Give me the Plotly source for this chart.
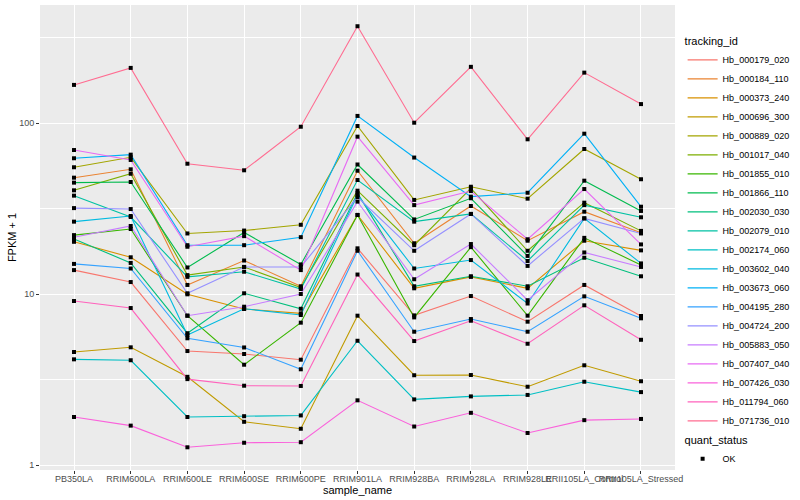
import plotly.graph_objects as go

categories = ["PB350LA", "RRIM600LA", "RRIM600LE", "RRIM600SE", "RRIM600PE", "RRIM901LA",
              "RRIM928BA", "RRIM928LA", "RRIM928LE", "RRII105LA_Control", "RRII105LA_Stressed"]

tracking_ids = ["Hb_000179_020", "Hb_000184_110", "Hb_000373_240", "Hb_000696_300", "Hb_000889_020",
                "Hb_001017_040", "Hb_001855_010", "Hb_001866_110", "Hb_002030_030", "Hb_002079_010",
                "Hb_002174_060", "Hb_003602_040", "Hb_003673_060", "Hb_004195_280", "Hb_004724_200",
                "Hb_005883_050", "Hb_007407_040", "Hb_007426_030", "Hb_011794_060", "Hb_071736_010"]

hb_000179_020 = [13.8, 11.75, 4.64, 4.46, 4.13, 18.5, 7.5, 9.73, 6.89, 11.3, 7.44]
hb_000184_110 = [47.9, 53.6, 11.3, 15.7, 11.1, 52.6, 19.8, 32.7, 20.5, 30.3, 22.8]
hb_000373_240 = [20.2, 16.4, 9.96, 8.18, 7.71, 29.0, 10.8, 12.6, 10.8, 20.5, 18.0]
hb_000696_300 = [4.58, 4.88, 3.28, 1.79, 1.63, 7.47, 3.35, 3.36, 2.87, 3.83, 3.09]
hb_000889_020 = [55.1, 63.0, 22.6, 23.5, 25.4, 96.0, 35.5, 42.4, 36.1, 70.5, 46.9]
hb_001017_040 = [40.4, 50.5, 12.9, 14.4, 10.9, 40.2, 19.3, 41.5, 17.9, 34.2, 23.4]
hb_001855_010 = [22.1, 24.0, 7.47, 3.86, 6.80, 29.0, 7.3, 18.8, 7.47, 21.3, 14.8]
hb_001866_110 = [44.8, 45.2, 14.3, 22.9, 14.9, 57.2, 27.3, 36.3, 16.7, 46.0, 30.6]
hb_002030_030 = [21.0, 15.2, 5.9, 10.1, 8.2, 38.9, 11.1, 12.7, 11.1, 16.3, 12.7]
hb_002079_010 = [37.6, 28.2, 12.6, 13.5, 10.7, 46.4, 26.5, 29.4, 15.6, 33.1, 28.1]
hb_002174_060 = [4.15, 4.10, 1.91, 1.93, 1.95, 5.33, 2.42, 2.52, 2.57, 3.07, 2.67]
hb_003602_040 = [26.5, 28.6, 5.76, 8.2, 7.54, 37.9, 14.1, 15.8, 8.8, 27.7, 15.1]
hb_003673_060 = [62.2, 65.3, 19.3, 19.3, 21.5, 110.0, 62.8, 37.1, 39.1, 86.6, 32.4]
hb_004195_280 = [15.0, 14.1, 5.51, 4.87, 3.63, 17.9, 6.02, 7.14, 6.02, 9.69, 7.21]
hb_004724_200 = [31.8, 31.4, 10.1, 14.4, 14.4, 36.9, 17.9, 29.4, 14.6, 27.7, 22.6]
hb_005883_050 = [21.5, 25.0, 7.47, 8.43, 10.0, 34.7, 12.2, 19.6, 9.2, 17.5, 14.4]
hb_007407_040 = [69.5, 60.8, 18.9, 21.8, 13.8, 83.2, 33.1, 40.0, 20.9, 41.1, 19.5]
hb_007426_030 = [1.91, 1.70, 1.27, 1.35, 1.36, 2.39, 1.68, 2.02, 1.54, 1.83, 1.86]
hb_011794_060 = [9.1, 8.28, 3.18, 2.91, 2.90, 13.0, 5.31, 6.98, 5.12, 8.59, 5.40]
hb_071736_010 = [167.0, 210.0, 57.8, 52.9, 95.1, 368.0, 100.4, 213.0, 80.3, 197.0, 129.0]

series_values = [hb_000179_020, hb_000184_110, hb_000373_240, hb_000696_300, hb_000889_020,
                 hb_001017_040, hb_001855_010, hb_001866_110, hb_002030_030, hb_002079_010,
                 hb_002174_060, hb_003602_040, hb_003673_060, hb_004195_280, hb_004724_200,
                 hb_005883_050, hb_007407_040, hb_007426_030, hb_011794_060, hb_071736_010]

colors = ["#F8766D", "#EA8331", "#D89000", "#C09B00", "#A3A500", "#7CAE00", "#39B600", "#00BB4E",
          "#00BF7D", "#00C1A3", "#00BFC4", "#00BAE0", "#00B0F6", "#35A2FF", "#9590FF", "#C77CFF",
          "#E76BF3", "#FA62DB", "#FF62BC", "#FF6C91"]

y_ticks = [1, 10, 100]
y_tick_labels = ["1", "10", "100"]
y_minor = [3.1623, 31.623, 316.23]

FONT = "Liberation Sans, Arial, sans-serif"

fig = go.Figure()
for name, vals, col in zip(tracking_ids, series_values, colors):
    fig.add_trace(go.Scatter(
        x=categories, y=vals, mode="lines", name=name,
        line=dict(color=col, width=1.1), legend="legend",
    ))

all_x = [c for vals in series_values for c in categories]
all_y = [v for vals in series_values for v in vals]
fig.add_trace(go.Scatter(
    x=all_x, y=all_y, mode="markers", name="OK",
    marker=dict(color="black", size=4, symbol="square"),
    legend="legend2",
))

fig.update_layout(
    width=800, height=500,
    margin=dict(l=40, r=117, t=5, b=30),
    paper_bgcolor="white", plot_bgcolor="#EBEBEB",
    font=dict(family=FONT, size=11, color="black"),
    legend=dict(
        title=dict(text="tracking_id", font=dict(size=11, color="black")),
        x=1.012, xanchor="left", y=0.944, yanchor="top",
        font=dict(size=9, color="black"),
        itemwidth=30, bgcolor="rgba(0,0,0,0)", tracegroupgap=0,
    ),
    legend2=dict(
        title=dict(text="quant_status", font=dict(size=11, color="black")),
        x=1.012, xanchor="left", y=0.086, yanchor="top",
        font=dict(size=9, color="black"),
        itemwidth=30, bgcolor="rgba(0,0,0,0)",
    ),
    showlegend=True,
)

fig.update_xaxes(
    type="category", categoryorder="array", categoryarray=categories,
    range=[-0.6, len(categories) - 0.4],
    showgrid=True, gridcolor="white", gridwidth=1.1, zeroline=False,
    ticks="outside", ticklen=3, tickcolor="#333333", tickwidth=1,
    tickangle=0, tickfont=dict(size=9, color="#4D4D4D", family=FONT),
    ticklabelstandoff=-3,
    title=dict(text="sample_name", font=dict(size=11, color="black"), standoff=2),
    showline=False, automargin=False,
)

fig.update_yaxes(
    type="log", range=[-0.029, 2.690],
    tickmode="array", tickvals=y_ticks, ticktext=y_tick_labels,
    showgrid=True, gridcolor="white", gridwidth=1.1, zeroline=False,
    minor=dict(tickmode="array", tickvals=y_minor, showgrid=True, gridcolor="white", gridwidth=0.5, ticks=""),
    ticks="outside", ticklen=3, tickcolor="#333333", tickwidth=1,
    tickfont=dict(size=9, color="#4D4D4D", family=FONT),
    title=dict(text="FPKM + 1", font=dict(size=11, color="black"), standoff=0),
    showline=False, automargin=False,
)

fig.write_html("out.html", config={"displayModeBar": False},
               post_script="document.body.style.margin='0px';")
